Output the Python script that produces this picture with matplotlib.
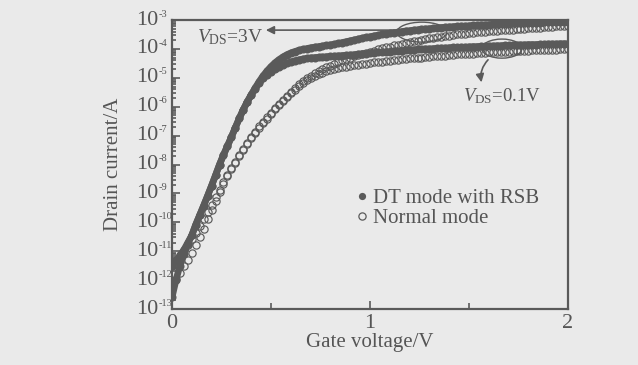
import numpy as np
import matplotlib
matplotlib.use('Agg')
import matplotlib.pyplot as plt
from matplotlib.patches import Ellipse
from matplotlib.lines import Line2D
from matplotlib.ticker import LogLocator, NullFormatter, MultipleLocator

plt.rcParams['font.family'] = 'Liberation Serif'
plt.rcParams['mathtext.fontset'] = 'custom'
plt.rcParams['mathtext.rm'] = 'Liberation Serif'
plt.rcParams['mathtext.it'] = 'Liberation Serif:italic'

# gate voltage sweep, 0 .. 2 V in 0.02 V steps
gate_v = np.linspace(0, 2, 101)

# log10 of drain current, one row per 0.2 V
dt_3v = [
    -11.50, -11.35, -11.15, -10.95, -10.70, -10.45, -10.08, -9.75, -9.42, -9.08,
    -8.73, -8.37, -8.00, -7.67, -7.36, -7.05, -6.72, -6.40, -6.10, -5.83,
    -5.58, -5.35, -5.13, -4.93, -4.76, -4.61, -4.48, -4.37, -4.28, -4.20,
    -4.14, -4.09, -4.05, -4.02, -3.99, -3.96, -3.94, -3.92, -3.90, -3.88,
    -3.86, -3.84, -3.81, -3.78, -3.75, -3.72, -3.69, -3.66, -3.63, -3.60,
    -3.58, -3.55, -3.53, -3.50, -3.48, -3.46, -3.44, -3.42, -3.40, -3.38,
    -3.37, -3.35, -3.34, -3.32, -3.31, -3.30, -3.29, -3.27, -3.26, -3.25,
    -3.24, -3.23, -3.22, -3.21, -3.21, -3.20, -3.19, -3.18, -3.17, -3.17,
    -3.16, -3.15, -3.15, -3.14, -3.14, -3.13, -3.12, -3.12, -3.11, -3.11,
    -3.10, -3.10, -3.09, -3.09, -3.08, -3.08, -3.08, -3.07, -3.07, -3.07,
    -3.06]

dt_01v = [
    -12.60, -12.00, -11.50, -11.10, -10.75, -10.45, -10.08, -9.75, -9.42, -9.08,
    -8.73, -8.37, -8.00, -7.67, -7.36, -7.05, -6.72, -6.40, -6.10, -5.83,
    -5.60, -5.38, -5.18, -5.02, -4.90, -4.80, -4.71, -4.63, -4.56, -4.50,
    -4.45, -4.41, -4.38, -4.35, -4.33, -4.31, -4.30, -4.29, -4.28, -4.27,
    -4.26, -4.25, -4.24, -4.23, -4.22, -4.21, -4.20, -4.18, -4.17, -4.16,
    -4.14, -4.13, -4.12, -4.11, -4.10, -4.09, -4.08, -4.07, -4.06, -4.05,
    -4.04, -4.03, -4.02, -4.01, -4.00, -4.00, -3.99, -3.98, -3.97, -3.97,
    -3.96, -3.95, -3.95, -3.94, -3.94, -3.93, -3.92, -3.92, -3.91, -3.91,
    -3.90, -3.90, -3.89, -3.89, -3.88, -3.88, -3.87, -3.87, -3.86, -3.86,
    -3.85, -3.85, -3.85, -3.84, -3.84, -3.83, -3.83, -3.83, -3.82, -3.82,
    -3.82]

normal_3v = [
    -11.50, -11.32, -11.14, -10.96, -10.77, -10.57, -10.36, -10.14, -9.90, -9.65,
    -9.40, -9.14, -8.88, -8.62, -8.37, -8.13, -7.90, -7.68, -7.46, -7.25,
    -7.05, -6.86, -6.68, -6.52, -6.37, -6.21, -6.05, -5.90, -5.76, -5.62,
    -5.48, -5.35, -5.23, -5.12, -5.02, -4.93, -4.85, -4.78, -4.71, -4.64,
    -4.58, -4.52, -4.46, -4.40, -4.35, -4.30, -4.26, -4.22, -4.18, -4.14,
    -4.10, -4.06, -4.02, -3.98, -3.95, -3.92, -3.88, -3.85, -3.82, -3.79,
    -3.76, -3.73, -3.71, -3.68, -3.66, -3.64, -3.62, -3.60, -3.58, -3.56,
    -3.54, -3.52, -3.50, -3.49, -3.47, -3.46, -3.44, -3.43, -3.42, -3.40,
    -3.39, -3.38, -3.37, -3.36, -3.35, -3.34, -3.33, -3.32, -3.31, -3.30,
    -3.29, -3.28, -3.27, -3.26, -3.25, -3.24, -3.23, -3.22, -3.21, -3.21,
    -3.20]

normal_01v = [
    -12.15, -11.95, -11.74, -11.52, -11.30, -11.06, -10.80, -10.52, -10.22, -9.90,
    -9.57, -9.25, -8.95, -8.67, -8.41, -8.17, -7.94, -7.72, -7.50, -7.29,
    -7.09, -6.90, -6.72, -6.56, -6.41, -6.25, -6.09, -5.94, -5.80, -5.66,
    -5.53, -5.41, -5.30, -5.19, -5.09, -5.00, -4.93, -4.87, -4.82, -4.77,
    -4.73, -4.70, -4.67, -4.64, -4.61, -4.59, -4.57, -4.55, -4.53, -4.51,
    -4.49, -4.47, -4.46, -4.44, -4.42, -4.41, -4.39, -4.38, -4.36, -4.35,
    -4.33, -4.32, -4.31, -4.30, -4.28, -4.27, -4.26, -4.25, -4.24, -4.23,
    -4.21, -4.20, -4.19, -4.19, -4.18, -4.17, -4.16, -4.15, -4.14, -4.13,
    -4.12, -4.12, -4.11, -4.10, -4.09, -4.09, -4.08, -4.07, -4.07, -4.06,
    -4.06, -4.05, -4.05, -4.04, -4.04, -4.03, -4.03, -4.03, -4.02, -4.02,
    -4.02]

decades = list(range(-13, -2))

bg = '#eaeaea'
ink = '#5a5a5a'
txt = '#555555'

fig = plt.figure(figsize=(6.38, 3.65), dpi=100, facecolor=bg)
ax = fig.add_axes([0.2696, 0.1534, 0.6207, 0.7918], facecolor=bg)

# filled: DT mode with RSB (dense dots drawn as a thick band), open: normal mode
for vals in (dt_3v, dt_01v):
    ax.plot(gate_v, 10.0 ** np.array(vals), '-', color=ink, lw=4.8,
            solid_capstyle='round', marker='o', ms=5.8, mew=0)
for vals in (normal_3v, normal_01v):
    ax.plot(gate_v, 10.0 ** np.array(vals), 'o', mfc='none', mec=ink,
            ms=5.2, mew=0.85)

ax.set_yscale('log')
ax.set_xlim(0, 2)
ax.set_ylim(1e-13, 1e-3)
ax.yaxis.set_major_locator(LogLocator(base=10, numticks=20))
ax.yaxis.set_minor_locator(LogLocator(base=10, subs=np.arange(2, 10), numticks=20))
ax.yaxis.set_major_formatter(NullFormatter())
ax.yaxis.set_minor_formatter(NullFormatter())
ax.xaxis.set_major_locator(MultipleLocator(1))
ax.xaxis.set_minor_locator(MultipleLocator(0.5))

for s in ax.spines.values():
    s.set_color(ink)
    s.set_linewidth(1.6)
ax.tick_params(which='both', direction='in', color=ink, width=1.2,
               labelcolor=txt, labelsize=16)
ax.tick_params(which='major', length=6)
ax.tick_params(which='minor', length=3)
ax.tick_params(axis='x', which='minor', length=4)

# y tick labels: big "10" with a small exponent, as in the scan
ytr = ax.get_yaxis_transform()
for e in decades:
    ax.annotate('10', xy=(0, 10.0 ** e), xycoords=ytr, xytext=(-10, 0),
                textcoords='offset points', ha='right', va='center',
                fontsize=16, color=txt, annotation_clip=False)
    ax.annotate(str(e), xy=(0, 10.0 ** e), xycoords=ytr,
                xytext=(-9.5, 4.2), textcoords='offset points', ha='left',
                va='center', fontsize=7.5, color=txt, annotation_clip=False)

ax.set_xlabel('Gate voltage/V', fontsize=15, color=txt)
ax.set_ylabel('Drain current/A', fontsize=15, color=txt)
ax.xaxis.set_label_coords(0.5, -0.083)
ax.yaxis.set_label_coords(-0.125, 0.5)

handles = [Line2D([], [], ls='none', marker='o', color=ink, ms=5.2, mew=0),
           Line2D([], [], ls='none', marker='o', mfc='none', mec=ink,
                  ms=5.2, mew=0.9)]
leg = ax.legend(handles, ['DT mode with RSB', 'Normal mode'],
                loc='upper left', bbox_to_anchor=(0.445, 0.445), frameon=False,
                fontsize=15, handlelength=0.5, handletextpad=0.3,
                labelspacing=0.0, borderaxespad=0)
for t in leg.get_texts():
    t.set_color(txt)

# annotations: ellipses and arrows pointing at the VDS labels
ax.add_patch(Ellipse((0.631, 0.958), 0.126, 0.069, transform=ax.transAxes,
                     fill=False, ec=ink, lw=1.0))
ax.add_patch(Ellipse((0.833, 0.901), 0.101, 0.066, transform=ax.transAxes,
                     fill=False, ec=ink, lw=1.0))
ax.annotate('', xy=(0.23, 0.965), xytext=(0.568, 0.965),
            xycoords='axes fraction',
            arrowprops=dict(arrowstyle='-|>', color=ink, lw=1.2,
                            mutation_scale=12))
ax.text(0.063, 0.942, r'$V_{\rm DS}$=3V', transform=ax.transAxes,
        fontsize=14, color=txt, va='center', ha='left')
ax.annotate('', xy=(0.783, 0.775), xytext=(0.803, 0.869),
            xycoords='axes fraction',
            arrowprops=dict(arrowstyle='-|>', color=ink, lw=1.2,
                            mutation_scale=12,
                            connectionstyle='arc3,rad=0.3'))
ax.text(0.833, 0.738, r'$V_{\rm DS}$=0.1V', transform=ax.transAxes,
        fontsize=13.5, color=txt, va='center', ha='center')

fig.savefig('out.png', dpi=100, facecolor=bg)
